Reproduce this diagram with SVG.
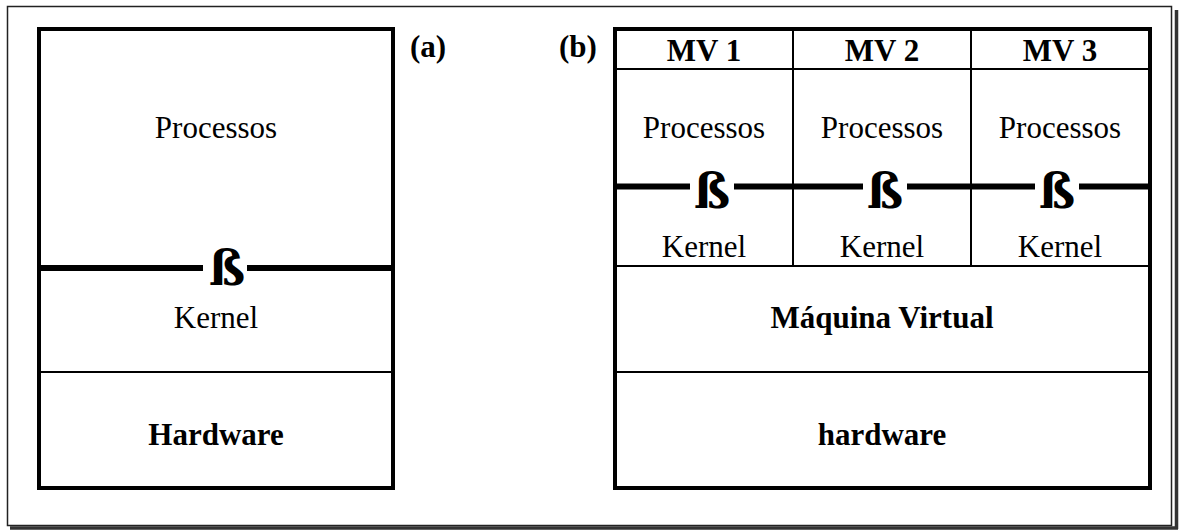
<svg xmlns="http://www.w3.org/2000/svg" width="1179" height="531" viewBox="0 0 1179 531">
<style>
.t{font-family:"Liberation Serif","Times New Roman",serif;font-size:31px;fill:#000;text-anchor:middle}
.b{font-weight:bold}
.box{fill:none;stroke:#000;stroke-width:4}
.thin{stroke:#000;stroke-width:2;fill:none}
.thick{stroke:#000;stroke-width:6;fill:none}
.sz{font-family:"DejaVu Serif","Liberation Serif",serif;font-weight:bold;font-size:48px;text-anchor:middle;fill:#000}
</style>
<rect width="1179" height="531" fill="#fff"/>
<g id="frame">
<rect x="7.5" y="6.5" width="1164" height="519" fill="none" stroke="#222" stroke-width="1.5"/>
<path d="M1176.5 10V529M10 528H1178" fill="none" stroke="#333" stroke-width="3.5"/>
</g>
<g id="label-a"><text class="t b" x="428" y="57">(a)</text></g>
<g id="label-b"><text class="t b" x="578" y="57">(b)</text></g>
<g id="panel-a">
<rect class="box" x="39" y="29" width="354" height="459"/>
<path class="thin" d="M41 372H391"/>
<path class="thick" d="M41 268H203M247 268H391"/>
<text class="sz" x="227" y="285">ß</text>
<text class="t" x="216" y="138">Processos</text>
<text class="t" x="216" y="328">Kernel</text>
<text class="t b" x="216" y="445">Hardware</text>
</g>
<g id="panel-b">
<rect class="box" x="615" y="29" width="535" height="459"/>
<path class="thin" d="M617 69H1148M617 266H1148M617 372H1148M793 31V266M971 31V266"/>
<path class="thick" d="M617 186.5H690M734 186.5H863M907 186.5H1035M1079 186.5H1148"/>
</g>
<g id="mv1">
<text class="t b" x="704" y="61">MV 1</text>
<text class="t" x="704" y="138">Processos</text>
<text class="sz" x="712" y="208">ß</text>
<text class="t" x="704" y="257">Kernel</text>
</g>
<g id="mv2">
<text class="t b" x="882" y="61">MV 2</text>
<text class="t" x="882" y="138">Processos</text>
<text class="sz" x="885" y="208">ß</text>
<text class="t" x="882" y="257">Kernel</text>
</g>
<g id="mv3">
<text class="t b" x="1060" y="61">MV 3</text>
<text class="t" x="1060" y="138">Processos</text>
<text class="sz" x="1057" y="208">ß</text>
<text class="t" x="1060" y="257">Kernel</text>
</g>
<g id="maquina-virtual"><text class="t b" x="882" y="328">Máquina Virtual</text></g>
<g id="hardware-b"><text class="t b" x="882" y="445">hardware</text></g>
<g id="connectors"></g>
</svg>
